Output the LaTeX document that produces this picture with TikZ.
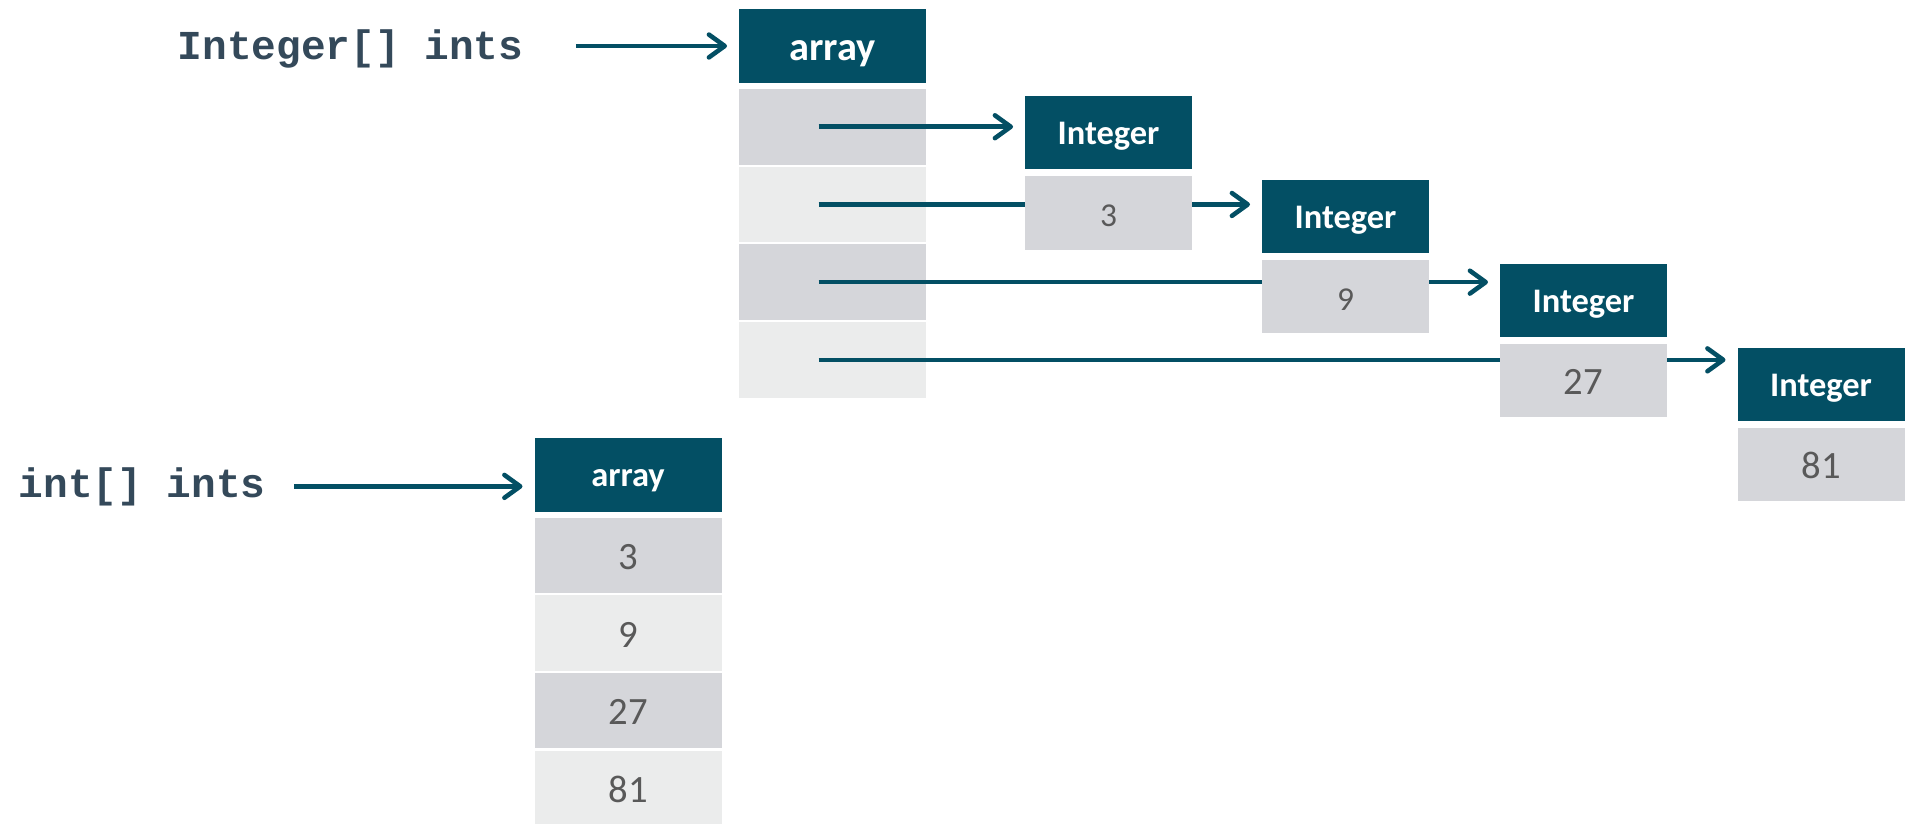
\documentclass[tikz,border=0pt]{standalone}
\usepackage{fontspec}
\setmainfont{Carlito}
\setmonofont{Liberation Mono}
\usetikzlibrary{arrows.meta, positioning}

\definecolor{boxteal}{HTML}{034F64}
\definecolor{celldark}{HTML}{D5D6DA}
\definecolor{celllight}{HTML}{EBECEC}
\definecolor{codeink}{HTML}{34495A}
\definecolor{numink}{HTML}{595959}

\begin{document}
\begin{tikzpicture}[
    node distance=0.022cm,
    hdr/.style={rectangle, fill=boxteal, text=white, minimum width=1.87cm, minimum height=0.74cm, inner sep=0pt, outer sep=0pt, text height=0.68em, text depth=0pt, font=\fontsize{9.8}{11}\selectfont\bfseries},
    cell/.style={rectangle, fill=celldark, text=numink, minimum width=1.87cm, minimum height=0.755cm, inner sep=0pt, outer sep=0pt, text height=0.8em, text depth=0pt, font=\fontsize{11}{13}\selectfont},
    lite/.style={cell, fill=celllight},
    obj/.style={hdr, minimum width=1.67cm, minimum height=0.73cm},
    val/.style={cell, minimum width=1.67cm, minimum height=0.735cm},
    ref/.style={font=\fontsize{11.7}{14}\selectfont\ttfamily\bfseries, text=codeink, inner sep=0pt, anchor=base west},
    ptr/.style={-{Straight Barb[length=4.5pt, width=6.5pt, round]}, line width=1.3pt, boxteal, shorten >=0.12cm}
]
\useasboundingbox (0,0) rectangle (19.12,-8.23);

% Integer[] ints: array of references
\node[ref] (ref_box) at (1.77,-0.60) {Integer[] ints};
\node[hdr, text height=0.8em, font=\fontsize{11.5}{13}\selectfont\bfseries] (box_arr) at (8.325,-0.46) {array};
\node[cell, below=0.06cm of box_arr] (box_c1) {};
\node[lite, below=of box_c1] (box_c2) {};
\node[cell, below=of box_c2] (box_c3) {};
\node[lite, below=of box_c3] (box_c4) {};

% int[] ints: array of plain values
\node[ref] (ref_prim) at (0.18,-4.97) {int[] ints};
\node[hdr] (prim_arr) at (6.28,-4.745) {array};
\node[cell, below=0.06cm of prim_arr] (prim_c1) {3};
\node[lite, below=of prim_c1] (prim_c2) {9};
\node[cell, below=of prim_c2] (prim_c3) {27};
\node[lite, below=of prim_c3] (prim_c4) {81};

% boxed Integer objects
\node[obj] (int1) at (11.085,-1.33) {Integer};
\node[obj] (int2) at (13.455,-2.165) {Integer};
\node[obj] (int3) at (15.835,-3.005) {Integer};
\node[obj] (int4) at (18.21,-3.845) {Integer};

% variables -> arrays
\draw[ptr, shorten <=0.52cm] (ref_box.east |- box_arr.west) -- (box_arr.west);
\draw[ptr, shorten <=0.28cm] (ref_prim.east) -- (ref_prim.east -| prim_arr.west);

% array slots -> objects (drawn before the value boxes, which cover them)
\draw[ptr] ([xshift=-0.14cm]box_c1.center) -- (box_c1.center -| int1.west);
\draw[ptr] ([xshift=-0.14cm]box_c2.center) -- (box_c2.center -| int2.west);
\draw[ptr] ([xshift=-0.14cm]box_c3.center) -- (box_c3.center -| int3.west);
\draw[ptr] ([xshift=-0.14cm]box_c4.center) -- (box_c4.center -| int4.west);

% values held by the objects
\node[val, font=\fontsize{9.5}{11}\selectfont, below=0.065cm of int1] (int1_v) {3};
\node[val, font=\fontsize{9.5}{11}\selectfont, below=0.065cm of int2] (int2_v) {9};
\node[val, below=0.065cm of int3] (int3_v) {27};
\node[val, below=0.065cm of int4] (int4_v) {81};

\end{tikzpicture}
\end{document}
